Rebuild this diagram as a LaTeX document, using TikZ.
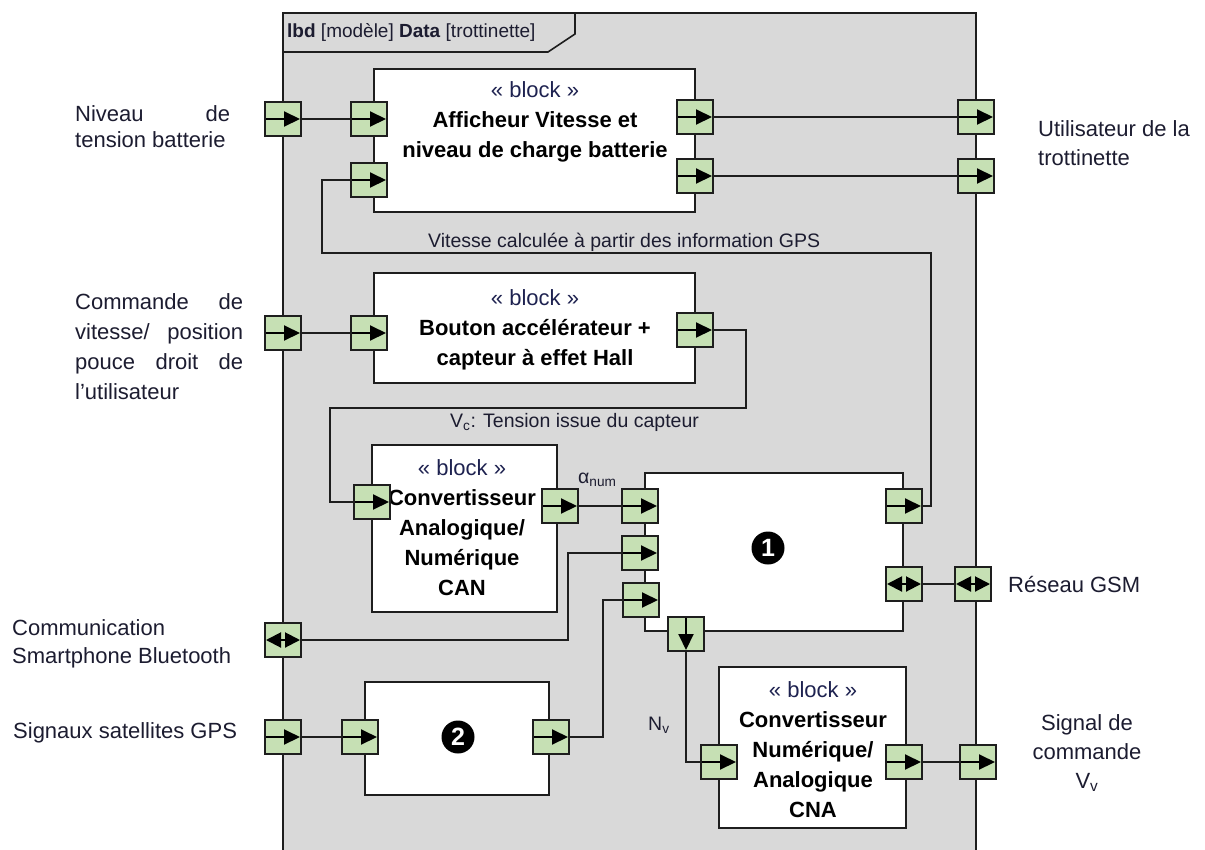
\documentclass[tikz,border=0pt]{standalone}
\usepackage{fontspec}
\setmainfont{Liberation Sans}
\usetikzlibrary{arrows.meta}
\definecolor{frameg}{RGB}{217,217,217}
\definecolor{portg}{RGB}{198,224,180}
\definecolor{txtb}{RGB}{28,28,48}
\definecolor{txtn}{RGB}{30,34,80}
\definecolor{lineg}{RGB}{30,30,30}
\begin{document}
\begin{tikzpicture}[x=1pt,y=-1pt,
  port/.style={draw=lineg, line width=1.6pt, fill=portg, minimum width=36pt, minimum height=34pt, inner sep=0pt, outer sep=0pt},
  pR/.style={port, path picture={\draw[black,line width=2pt,-{Triangle[length=16pt,width=15pt]}] ([xshift=-1pt]path picture bounding box.west) -- ([xshift=-1pt]path picture bounding box.east);}},
  pD/.style={port, path picture={\draw[black,line width=2pt,-{Triangle[length=16pt,width=15pt]}] ([yshift=-1pt]path picture bounding box.north) -- ([yshift=1pt]path picture bounding box.south);}},
  pB/.style={port, path picture={\draw[black,line width=2pt,{Triangle[length=15pt,width=15pt]}-{Triangle[length=15pt,width=15pt]}] ([xshift=1pt]path picture bounding box.west) -- ([xshift=-1pt]path picture bounding box.east);}},
  blk/.style={draw=lineg, line width=1.8pt, fill=white},
  conn/.style={draw=lineg, line width=1.5pt},
  side/.style={anchor=base west, inner sep=0pt, text=txtb, font=\fontsize{22}{28}\selectfont},
  btxt/.style={anchor=base, inner sep=0pt, text=black, font=\fontsize{22}{30}\selectfont},
  lbl/.style={anchor=base west, inner sep=0pt, text=txtb, font=\fontsize{19.5}{23}\selectfont},
  badge/.style={circle, fill=black, minimum size=33pt, inner sep=0pt, text=white, font=\bfseries\fontsize{25}{25}\selectfont}
]
\useasboundingbox (0,0) rectangle (1205,849);
\begin{scope}
\clip (0,0) rectangle (1205,849);
% frame
\draw[fill=frameg, line width=1.6pt, draw=lineg] (283,13) rectangle (976,870);
\draw[line width=1.6pt, draw=lineg] (283,52) -- (548,52) -- (575,34) -- (575,13);
\end{scope}
\node[anchor=base west, inner sep=0pt, text=txtb, font=\fontsize{19}{22}\selectfont] (hdr) at (287,37) {\textbf{lbd} [modèle] \textbf{Data} [trottinette]};

% blocks
\draw[blk] (374,69) rectangle (695,212);
\draw[blk] (374,273) rectangle (695,383);
\draw[blk] (372,445) rectangle (557,612);
\draw[blk] (645,473) rectangle (903,631);
\draw[blk] (365,682) rectangle (549,795);
\draw[blk] (719,667) rectangle (906,828);

% block texts
\node[btxt] (tA) at (535,97) {\begin{tabular}[t]{@{}c@{}}{\color{txtn}« block »}\\\textbf{Afficheur Vitesse et}\\\textbf{niveau de charge batterie}\end{tabular}};
\node[btxt] (tC) at (535,305) {\begin{tabular}[t]{@{}c@{}}{\color{txtn}« block »}\\\textbf{Bouton accélérateur +}\\\textbf{capteur à effet Hall}\end{tabular}};
\node[btxt] (tD) at (462,475) {\begin{tabular}[t]{@{}c@{}}{\color{txtn}« block »}\\\textbf{Convertisseur}\\\textbf{Analogique/}\\\textbf{Numérique}\\\textbf{CAN}\end{tabular}};
\node[btxt] (tF) at (813,697) {\begin{tabular}[t]{@{}c@{}}{\color{txtn}« block »}\\\textbf{Convertisseur}\\\textbf{Numérique/}\\\textbf{Analogique}\\\textbf{CNA}\end{tabular}};
\node[badge] (n1) at (768,548) {1};
\node[badge] (n2) at (458,737) {2};

% ports
\node[pR] (fL1) at (283,119) {};
\node[pR] (fL2) at (283,333) {};
\node[pB] (fL3) at (283,640) {};
\node[pR] (fL4) at (283,737) {};
\node[pR] (fR1) at (976,117) {};
\node[pR] (fR2) at (976,176) {};
\node[pB] (fR3) at (973,584) {};
\node[pR] (fR4) at (978,762) {};
\node[pR] (aI1) at (369,119) {};
\node[pR] (aI2) at (369,180) {};
\node[pR] (aO1) at (695,117) {};
\node[pR] (aO2) at (695,176) {};
\node[pR] (cI) at (369,333) {};
\node[pR] (cO) at (695,330) {};
\node[pR] (dI) at (372,502) {};
\node[pR] (dO) at (560,506) {};
\node[pR] (bI1) at (640,506) {};
\node[pR] (bI2) at (640,553) {};
\node[pR] (bI3) at (641,600) {};
\node[pD] (bD) at (686,634) {};
\node[pR] (bO1) at (904,506) {};
\node[pB] (bO2) at (904,584) {};
\node[pR] (eI) at (360,737) {};
\node[pR] (eO) at (551,737) {};
\node[pR] (fI) at (719,762) {};
\node[pR] (fO) at (904,762) {};

% connectors
\draw[conn] (fL1.east) -- (aI1.west);
\draw[conn] (aO1.east) -- (fR1.west);
\draw[conn] (aO2.east) -- (fR2.west);
\draw[conn] (fL2.east) -- (cI.west);
\draw[conn] (cO.east) -| (746,408) -- (330,408) |- (dI.west);
\draw[conn] (dO.east) -- (bI1.west);
\draw[conn] (bI2.west) -- (568,553) |- (fL3.east);
\draw[conn] (bI3.west) -- (603,600) |- (eO.east);
\draw[conn] (fL4.east) -- (eI.west);
\draw[conn] (bO1.east) -- (931,506) |- (322,253) |- (aI2.west);
\draw[conn] (bO2.east) -- (fR3.west);
\draw[conn] (bD.south) |- (fI.west);
\draw[conn] (fO.east) -- (fR4.west);

% connector labels
\node[lbl] (lV) at (428,247) {Vitesse calculée à partir des information GPS};
\node[lbl] (lVc) at (450,427) {V\textsubscript{c}: Tension issue du capteur};
\node[lbl] (lA) at (578,483) {α\textsubscript{num}};
\node[lbl] (lN) at (648,730) {N\textsubscript{v}};

% side texts
\node[side, font=\fontsize{22}{26}\selectfont] (sNiv) at (75,121) {\begin{tabular}[t]{@{}l@{}}\makebox[155pt][s]{Niveau de}\\tension batterie\end{tabular}};
\node[side, font=\fontsize{22}{30}\selectfont] (sCmd) at (75,309) {\begin{tabular}[t]{@{}l@{}}\makebox[168pt][s]{Commande de}\\\makebox[168pt][s]{vitesse/ position}\\\makebox[168pt][s]{pouce droit de}\\l’utilisateur\end{tabular}};
\node[side] (sCom) at (12,635) {\begin{tabular}[t]{@{}l@{}}Communication\\Smartphone Bluetooth\end{tabular}};
\node[side] (sGps) at (13,738) {Signaux satellites GPS};
\node[side, font=\fontsize{22}{29}\selectfont] (sUt) at (1038,136) {\begin{tabular}[t]{@{}l@{}}Utilisateur de la\\trottinette\end{tabular}};
\node[side] (sGsm) at (1008,592) {Réseau GSM};
\node[side, anchor=base, font=\fontsize{22}{29}\selectfont] (sSig) at (1087,730) {\begin{tabular}[t]{@{}c@{}}Signal de\\commande\\V\textsubscript{v}\end{tabular}};
\end{tikzpicture}
\end{document}
